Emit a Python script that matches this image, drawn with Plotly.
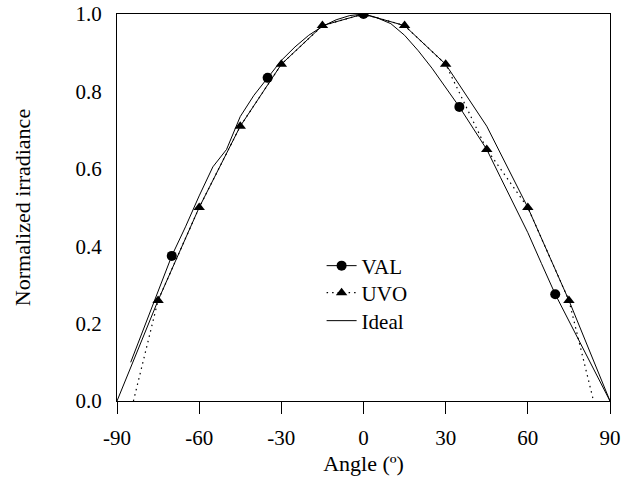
import plotly.graph_objects as go

# ---------------- data ----------------
val_angle = [-85, -80, -75, -70, -65, -60, -55, -50, -45, -40, -35, -30, -25, -20, -15, -10, -5, 0,
             5, 10, 15, 20, 25, 30, 35, 40, 45, 50, 55, 60, 65, 70, 90]
val_irr = [0.10, 0.19, 0.28, 0.375, 0.45, 0.53, 0.605, 0.65, 0.735, 0.79, 0.835, 0.88, 0.915, 0.945, 0.968, 0.985, 0.996, 1.0,
           0.99, 0.975, 0.945, 0.905, 0.86, 0.81, 0.76, 0.705, 0.65, 0.578, 0.507, 0.435, 0.355, 0.276, 0.0]
val_marker_angles = [-70, -35, 0, 35, 70]

uvo_angle = [-84, -75, -60, -45, -30, -15, 0, 15, 30, 45, 60, 75, 84]
uvo_irr = [0.0, 0.26, 0.50, 0.71, 0.87, 0.97, 1.0, 0.97, 0.87, 0.65, 0.50, 0.26, 0.0]
uvo_marker_angles = [-75, -60, -45, -30, -15, 0, 15, 30, 45, 60, 75]

ideal_angle = [-90, -75, -60, -45, -30, -15, 0, 15, 30, 45, 60, 75, 90]
ideal_irr = [0.0, 0.26, 0.50, 0.71, 0.87, 0.97, 1.0, 0.97, 0.87, 0.71, 0.50, 0.26, 0.0]

x_ticks = [-90, -60, -30, 0, 30, 60, 90]
y_ticks = [0.0, 0.2, 0.4, 0.6, 0.8, 1.0]

FONT = "Liberation Serif"
BLACK = "black"
DOT = "1.5px,4px"

def subset(angles, values, keep):
    xs, ys = [], []
    for a, v in zip(angles, values):
        if a in keep:
            xs.append(a)
            ys.append(v)
    return xs, ys

fig = go.Figure()

# Ideal
fig.add_trace(go.Scatter(x=ideal_angle, y=ideal_irr, mode="lines",
                         line=dict(color=BLACK, width=1), showlegend=False))
# UVO line + markers
fig.add_trace(go.Scatter(x=uvo_angle, y=uvo_irr, mode="lines",
                         line=dict(color=BLACK, width=1.2, dash=DOT), showlegend=False))
ux, uy = subset(uvo_angle, uvo_irr, uvo_marker_angles)
fig.add_trace(go.Scatter(x=ux, y=uy, mode="markers",
                         marker=dict(symbol="triangle-up", size=10, color=BLACK), showlegend=False))
# VAL line + markers
fig.add_trace(go.Scatter(x=val_angle, y=val_irr, mode="lines",
                         line=dict(color=BLACK, width=1), showlegend=False))
vx, vy = subset(val_angle, val_irr, val_marker_angles)
fig.add_trace(go.Scatter(x=vx, y=vy, mode="markers",
                         marker=dict(symbol="circle", size=10, color=BLACK), showlegend=False))

# legend entries (one legend per entry so the spacing can follow the reference)
fig.add_trace(go.Scatter(x=[None], y=[None], mode="lines+markers", name="VAL", legend="legend",
                         line=dict(color=BLACK, width=1),
                         marker=dict(symbol="circle", size=10, color=BLACK)))
fig.add_trace(go.Scatter(x=[None], y=[None], mode="lines+markers", name="UVO", legend="legend2",
                         line=dict(color=BLACK, width=1.2, dash=DOT),
                         marker=dict(symbol="triangle-up", size=10, color=BLACK)))
fig.add_trace(go.Scatter(x=[None], y=[None], mode="lines", name="Ideal", legend="legend3",
                         line=dict(color=BLACK, width=1)))

def leg(yc):
    return dict(x=0.415, y=yc, xanchor="left", yanchor="middle",
                bgcolor="rgba(0,0,0,0)", font=dict(family=FONT, size=21),
                borderwidth=0)

# plot area: y from 14 (1.0) to 401 (0.0) -> height 387
def ypaper(pix):
    return (401 - pix) / 387.0

fig.update_layout(
    width=630, height=491,
    margin=dict(l=117, r=20, t=14, b=90, autoexpand=False),
    paper_bgcolor="white", plot_bgcolor="white",
    font=dict(family=FONT, size=21, color=BLACK),
    legend=leg(ypaper(266)),
    legend2=leg(ypaper(293)),
    legend3=leg(ypaper(321)),
    xaxis=dict(range=[-90, 90], tickvals=x_ticks, ticktext=[str(t) for t in x_ticks],
               ticks="outside", ticklen=12, tickwidth=1, tickcolor=BLACK,
               showline=True, linecolor=BLACK, linewidth=1, mirror=True,
               showgrid=False, zeroline=False, automargin=False,
               ticklabelstandoff=6,
               title=dict(text="Angle (º)", standoff=6, font=dict(size=22)),
               tickfont=dict(size=21)),
    yaxis=dict(range=[0, 1.0], tickvals=y_ticks, ticktext=[f"{t:.1f}" for t in y_ticks],
               ticks="", showline=True, linecolor=BLACK, linewidth=1, mirror=True,
               showgrid=False, zeroline=False, automargin=False,
               ticklabelstandoff=10,
               title=dict(text="Normalized irradiance", standoff=38, font=dict(size=22)),
               tickfont=dict(size=21)),
)

fig.write_html("out.html")
